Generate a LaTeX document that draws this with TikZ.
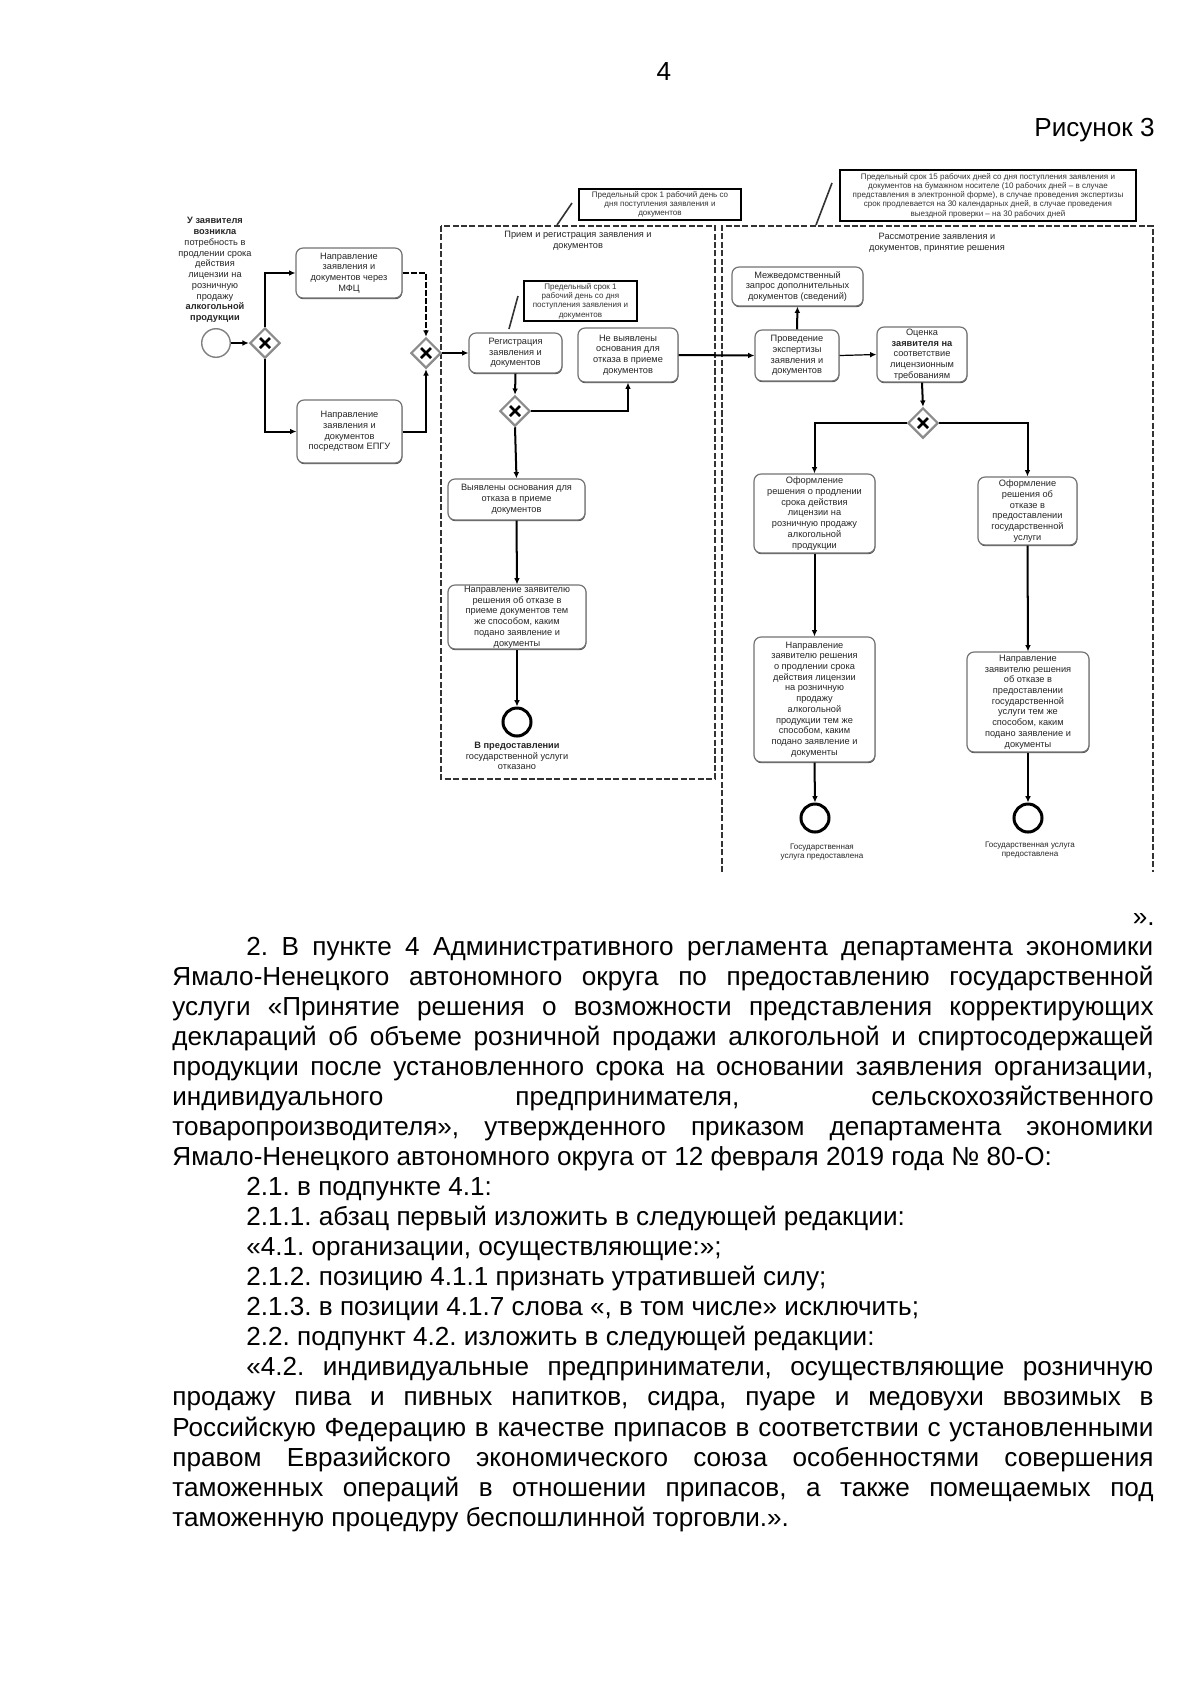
\documentclass[tikz,border=0pt]{standalone}
\usepackage{fontspec}
\setmainfont{Liberation Sans}
\usetikzlibrary{shapes.geometric,arrows.meta,calc,shadows}
\frenchspacing
\newcommand{\bfnt}{\fontsize{13}{15}\selectfont}
\newcommand{\dfnt}{\fontsize{4.6}{5.35}\selectfont}
\newcommand{\nfnt}{\fontsize{4.0}{4.6}\selectfont}
\newcommand{\jline}[1]{\makebox[171.7mm][s]{#1}}
\newcommand{\jiline}[1]{\makebox[158.7mm][s]{#1}}
\newcommand{\gx}[1]{\draw[line width=1.3pt] ($(#1)+(-5,-5)$) -- ($(#1)+(5,5)$) ($(#1)+(-5,5)$) -- ($(#1)+(5,-5)$);}
% \rbx{style}{name}{x1}{y1}{x2}{y2}{text}
\newcommand{\rbx}[7]{\node[#1, minimum width={(#5-#3)*0.175mm}, minimum height={(#6-#4)*0.175mm}] (#2) at ({(#3+#5)/2},{(#4+#6)/2}) {#7};}
\begin{document}
\begin{tikzpicture}[x=0.175mm, y=-0.175mm,
  box/.style={draw=black!55, line width=0.6pt, rounded corners=3.5pt, fill=white, align=center, font=\dfnt, text=black!85, inner sep=0pt, drop shadow={shadow xshift=0.2pt, shadow yshift=-0.6pt, fill=black!70, opacity=1}},
  note/.style={draw=black, line width=0.9pt, fill=white, align=center, font=\nfnt, text=black!80, inner sep=0pt},
  gw/.style={diamond, draw=black!45, line width=1.1pt, fill=white, minimum width=5.3mm, minimum height=5.3mm, inner sep=0pt},
  startev/.style={circle, draw=black!50, line width=0.7pt, minimum size=5mm, inner sep=0pt},
  endev/.style={circle, draw=black, line width=1.5pt, minimum size=4.9mm, inner sep=0pt},
  flow/.style={draw=black, line width=1pt, -{Latex[length=1.1mm,width=1mm]}},
  assoc/.style={draw=black!80, line width=0.8pt},
  lane/.style={draw=black!80, line width=0.8pt, dash pattern=on 3pt off 1.2pt},
  lbl/.style={align=center, font=\dfnt, text=black!85, inner sep=0pt},
  body/.style={anchor=base west, inner sep=0pt, font=\bfnt}]
\fill[white] (0,0) rectangle (1200,1696);
\useasboundingbox (0,0) rectangle (1200,1696);

% header
\node[font=\bfnt, inner sep=0pt] (pnum) at (664,72) {4};
\node[font=\bfnt, anchor=base east, inner sep=0pt] (fig) at (1155,136) {Рисунок 3};

% lanes
\draw[lane] (441,226) rectangle (715,779);
\draw[lane] (722,872) -- (722,226) -- (1153,226) -- (1153,872);
\node[lbl] (lt1) at (578,241) {Прием и регистрация заявления и\\документов};
\node[lbl] (lt2) at (937,243) {Рассмотрение заявления и\\документов, принятие решения};

% annotations
\rbx{note}{na}{579}{189}{741}{220}{Предельный срок 1 рабочий день со\\дня поступления заявления и\\документов}
\rbx{note}{nb}{840}{170}{1136}{221}{Предельный срок 15 рабочих дней со дня поступления заявления и\\документов на бумажном носителе (10 рабочих дней – в случае\\представления в электронной форме), в случае проведения экспертизы\\срок продлевается на 30 календарных дней, в случае проведения\\выездной проверки – на 30 рабочих дней}
\rbx{note, line width=0.7pt}{nc}{524}{281}{637}{321}{Предельный срок 1\\рабочий день со дня\\поступления заявления и\\документов}
\coordinate (na1) at (572,203); \coordinate (na2) at (557,225);
\coordinate (nb1) at (832,183); \coordinate (nb2) at (816,225);
\coordinate (nc1) at (518,296); \coordinate (nc2) at (509,329);
\draw[assoc] (na1) -- (na2);
\draw[assoc] (nb1) -- (nb2);
\draw[assoc] (nc1) -- (nc2);

% start
\node[lbl] (slbl) at (215,270) {\textbf{У заявителя}\\\textbf{возникла}\\потребность в\\продлении срока\\действия\\лицензии на\\розничную\\продажу\\\textbf{алкогольной}\\\textbf{продукции}};
\node[startev] (s) at (216,343) {};
\node[gw] (g1) at (265,343) {};
\rbx{box}{b1}{296}{248}{402}{298}{Направление\\заявления и\\документов через\\МФЦ}
\rbx{box}{b2}{297}{400}{402}{463}{Направление\\заявления и\\документов\\посредством ЕПГУ}
\node[gw] (g2) at (426,353) {};

% lane 1
\rbx{box}{reg}{469}{333}{562}{373}{Регистрация\\заявления и\\документов}
\rbx{box}{nbox}{578}{328}{678}{382}{Не выявлены\\основания для\\отказа в приеме\\документов}
\node[gw] (g3) at (515,411) {};
\rbx{box}{vbox}{448}{479}{585}{520}{Выявлены основания для\\отказа в приеме\\документов}
\rbx{box}{dbox}{448}{585}{586}{649}{Направление заявителю\\решения об отказе в\\приеме документов тем\\же способом, каким\\подано заявление и\\документы}
\node[endev] (e1) at (517,722) {};
\node[lbl] (e1l) at (517,756) {\textbf{В предоставлении}\\государственной услуги\\отказано};

% lane 2
\rbx{box}{mbox}{732}{267}{863}{306}{Межведомственный\\запрос дополнительных\\документов (сведений)}
\rbx{box}{pbox}{755}{330}{839}{381}{Проведение\\экспертизы\\заявления и\\документов}
\rbx{box}{obox}{877}{327}{967}{382}{Оценка\\\textbf{заявителя на}\\соответствие\\лицензионным\\требованиям}
\node[gw] (g4) at (923,423) {};
\rbx{box}{l1}{754}{474}{875}{553}{Оформление\\решения о продлении\\срока действия\\лицензии на\\розничную продажу\\алкогольной\\продукции}
\rbx{box}{r1}{978}{477}{1077}{545}{Оформление\\решения об\\отказе в\\предоставлении\\государственной\\услуги}
\rbx{box}{l2}{754}{637}{875}{762}{Направление\\заявителю решения\\о продлении срока\\действия лицензии\\на розничную\\продажу\\алкогольной\\продукции тем же\\способом, каким\\подано заявление и\\документы}
\rbx{box}{r2}{967}{652}{1089}{752}{Направление\\заявителю решения\\об отказе в\\предоставлении\\государственной\\услуги тем же\\способом, каким\\подано заявление и\\документы}
\node[endev] (e2) at (815,818) {};
\node[endev] (e3) at (1028,818) {};
\node[lbl, font=\nfnt] (e2l) at (822,852) {Государственная\\услуга предоставлена};
\node[lbl, font=\nfnt] (e3l) at (1030,850) {Государственная услуга\\предоставлена};

% X marks
\gx{g1}\gx{g2}\gx{g3}\gx{g4}

% flows
\draw[flow] (s) -- (g1);
\draw[flow] (g1.north) |- (b1.west);
\draw[flow] (g1.south) |- (b2.west);
\draw[flow, dash pattern=on 3pt off 1pt] (b1.east) -| (g2.north);
\draw[flow] (b2.east) -| (g2.south);
\draw[flow] (g2.east) -- (reg.west);
\draw[flow] (reg.south) -- (g3.north);
\draw[flow] (g3.east) -| (nbox.south);
\draw[flow] (g3.south) -- (vbox.north);
\draw[flow] (vbox.south) -- (dbox.north);
\draw[flow] (dbox.south) -- (e1.north);
\draw[flow] (nbox.east) -- (pbox.west);
\draw[flow] (pbox.north) -- (mbox.south);
\draw[flow, line width=0.6pt] (pbox.east) -- (obox.west);
\draw[flow] (obox.south) -- (g4.north);
\draw[flow] (g4.west) -| (l1.north);
\draw[flow] (g4.east) -| (r1.north);
\draw[flow] (l1.south) -- (l2.north);
\draw[flow] (r1.south) -- (r2.north);
\draw[flow] (l2.south) -- (e2.north);
\draw[flow] (r2.south) -- (e3.north);

% body text
\node[font=\bfnt, anchor=base east, inner sep=0pt] (q) at (1155,925) {».};
\node[body] (t1) at (246,955) {\jiline{2. В пункте 4 Административного регламента департамента экономики}};
\node[body] (t2) at (172,985) {\jline{Ямало-Ненецкого автономного округа по предоставлению государственной}};
\node[body] (t3) at (172,1015) {\jline{услуги «Принятие решения о возможности представления корректирующих}};
\node[body] (t4) at (172,1045) {\jline{деклараций об объеме розничной продажи алкогольной и спиртосодержащей}};
\node[body] (t5) at (172,1075) {\jline{продукции после установленного срока на основании заявления организации,}};
\node[body] (t6) at (172,1105) {\jline{индивидуального предпринимателя, сельскохозяйственного}};
\node[body] (t7) at (172,1135) {\jline{товаропроизводителя», утвержденного приказом департамента экономики}};
\node[body] (t8) at (172,1165) {Ямало-Ненецкого автономного округа от 12 февраля 2019 года № 80-О:};
\node[body] (t9) at (246,1195) {2.1. в подпункте 4.1:};
\node[body] (t10) at (246,1225) {2.1.1. абзац первый изложить в следующей редакции:};
\node[body] (t11) at (246,1255) {«4.1. организации, осуществляющие:»;};
\node[body] (t12) at (246,1285) {2.1.2. позицию 4.1.1 признать утратившей силу;};
\node[body] (t13) at (246,1315) {2.1.3. в позиции 4.1.7 слова «, в том числе» исключить;};
\node[body] (t14) at (246,1345) {2.2. подпункт 4.2. изложить в следующей редакции:};
\node[body] (t15) at (246,1375) {\jiline{«4.2. индивидуальные предприниматели, осуществляющие розничную}};
\node[body] (t16) at (172,1405) {\jline{продажу пива и пивных напитков, сидра, пуаре и медовухи ввозимых в}};
\node[body] (t17) at (172,1436) {\jline{Российскую Федерацию в качестве припасов в соответствии с установленными}};
\node[body] (t18) at (172,1466) {\jline{правом Евразийского экономического союза особенностями совершения}};
\node[body] (t19) at (172,1496) {\jline{таможенных операций в отношении припасов, а также помещаемых под}};
\node[body] (t20) at (172,1526) {таможенную процедуру беспошлинной торговли.».};
\end{tikzpicture}
\end{document}
